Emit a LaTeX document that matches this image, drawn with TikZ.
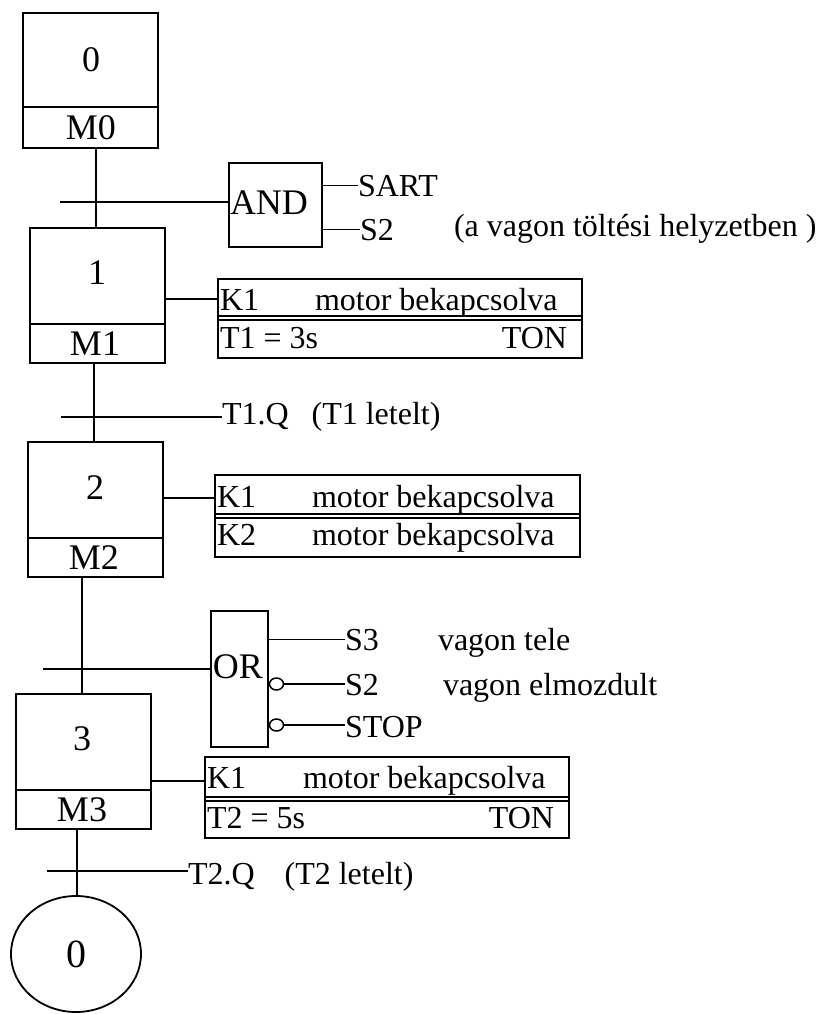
\documentclass[tikz,border=0pt]{standalone}
\usepackage{fontspec}
\setmainfont{Liberation Serif}
\usetikzlibrary{shapes.geometric}
\begin{document}
\begin{tikzpicture}[x=1pt,y=-1pt,
  every node/.style={inner sep=0pt, outer sep=0pt},
  ln/.style={line width=1.7pt},
  box/.style={draw, line width=1.8pt, anchor=north west},
  stepbox/.style={box, minimum width=135pt, minimum height=135pt},
  big/.style={font=\fontsize{36}{40}\selectfont},
  txt/.style={font=\fontsize{32}{36}\selectfont, anchor=base west},
  txtr/.style={font=\fontsize{32}{36}\selectfont, anchor=base east},
  neg/.style={draw, line width=1.5pt, ellipse, minimum width=14pt, minimum height=12pt},
]
\useasboundingbox (0,0) rectangle (825,1014);

% ---------- steps ----------
\node[stepbox] (s0) at (23,13) {};
\draw[ln] (s0.west |- 0,107) -- (s0.east |- 0,107);
\node[big] (n0) at (91,60) {0};
\node[big] (m0) at (91,128) {M0};

\node[stepbox] (s1) at (30,228) {};
\draw[ln] (s1.west |- 0,324) -- (s1.east |- 0,324);
\node[big] (n1) at (97,273) {1};
\node[big] (m1) at (95,344) {M1};

\node[stepbox] (s2) at (28,442) {};
\draw[ln] (s2.west |- 0,538) -- (s2.east |- 0,538);
\node[big] (n2) at (95,488) {2};
\node[big] (m2) at (94,558) {M2};

\node[stepbox] (s3) at (16,694) {};
\draw[ln] (s3.west |- 0,790) -- (s3.east |- 0,790);
\node[big] (n3) at (82,739) {3};
\node[big] (m3) at (82,810) {M3};

\node[draw, line width=1.8pt, ellipse, minimum width=130pt, minimum height=116pt,
      font=\fontsize{40}{44}\selectfont] (e0) at (76,954) {0};

% ---------- transitions ----------
\coordinate (t1) at (60,202);
\coordinate (t2) at (61,417);
\coordinate (t3) at (43,669);
\coordinate (t4) at (47,871);
\coordinate (v1) at (96,0);
\coordinate (v2) at (94,0);
\coordinate (v3) at (82,0);
\coordinate (v4) at (77,0);

\draw[ln] (s0.south -| v1) -- (s1.north -| v1);
\draw[ln] (s1.south -| v2) -- (s2.north -| v2);
\draw[ln] (s2.south -| v3) -- (s3.north -| v3);
\draw[ln] (s3.south -| v4) -- (e0.north -| v4);

% AND gate
\node[box, minimum width=93pt, minimum height=84pt] (and) at (229,163) {};
\node[big] (andl) at (269,203) {AND};
\draw[ln] (t1) -- (t1 -| and.west);
\node[txt] (sart) at (358,196) {SART};
\node[txt] (s2in) at (360,240) {S2};
\node[txt] (s2c) at (454,236) {(a vagon töltési helyzetben )};
\draw[ln] (and.east |- sart.west) -- (sart.west);
\draw[ln] (and.east |- s2in.west) -- (s2in.west);

% T1.Q
\node[txt] (tq1) at (222,424) {T1.Q\hspace{23pt}(T1 letelt)};
\draw[ln] (t2) -- (t2 -| tq1.west);

% OR gate
\node[box, minimum width=57pt, minimum height=136pt] (or) at (211,611) {};
\node[big] (orl) at (238,667) {OR};
\draw[ln] (t3) -- (t3 -| or.west);
\node[txt] (s3in) at (345,650) {S3};
\node[txt] (s3c) at (438,650) {vagon tele};
\node[txt] (s2b) at (345,695) {S2};
\node[txt] (s2bc) at (443,695) {vagon elmozdult};
\node[txt] (stop) at (345,737) {STOP};
\node[neg] (ng1) at (276.5,684) {};
\node[neg] (ng2) at (276.5,725) {};
\draw[ln] (or.east |- s3in.west) -- (s3in.west);
\draw[ln] (ng1.east) -- (ng1.east -| s2b.west);
\draw[ln] (ng2.east) -- (ng2.east -| stop.west);

% T2.Q
\node[txt] (tq2) at (188,884) {T2.Q\hspace{30pt}(T2 letelt)};
\draw[ln] (t4) -- (t4 -| tq2.west);

% ---------- actions ----------
\node[box, minimum width=364pt, minimum height=79pt] (a1) at (218,279) {};
\draw[ln] (a1.west |- 0,316) -- (a1.east |- 0,316);
\draw[ln] (a1.west |- 0,320) -- (a1.east |- 0,320);
\node[txt] (a1k) at (220,310) {K1};
\node[txt] (a1m) at (315,310) {motor bekapcsolva};
\node[txt] (a1t) at (220,348) {T1 = 3s};
\node[txtr] (a1n) at (567,348) {TON};
\coordinate (l1) at (0,299);
\draw[ln] (s1.east |- l1) -- (a1.west |- l1);

\node[box, minimum width=365pt, minimum height=82pt] (a2) at (215,475) {};
\draw[ln] (a2.west |- 0,514) -- (a2.east |- 0,514);
\draw[ln] (a2.west |- 0,518) -- (a2.east |- 0,518);
\node[txt] (a2k) at (217,507) {K1};
\node[txt] (a2m) at (312,507) {motor bekapcsolva};
\node[txt] (a2k2) at (217,545) {K2};
\node[txt] (a2m2) at (312,545) {motor bekapcsolva};
\coordinate (l2) at (0,498);
\draw[ln] (s2.east |- l2) -- (a2.west |- l2);

\node[box, minimum width=364pt, minimum height=81pt] (a3) at (205,757) {};
\draw[ln] (a3.west |- 0,797) -- (a3.east |- 0,797);
\draw[ln] (a3.west |- 0,801) -- (a3.east |- 0,801);
\node[txt] (a3k) at (207,788) {K1};
\node[txt] (a3m) at (303,788) {motor bekapcsolva};
\node[txt] (a3t) at (207,828) {T2 = 5s};
\node[txtr] (a3n) at (554,828) {TON};
\coordinate (l3) at (0,781);
\draw[ln] (s3.east |- l3) -- (a3.west |- l3);
\end{tikzpicture}
\end{document}
